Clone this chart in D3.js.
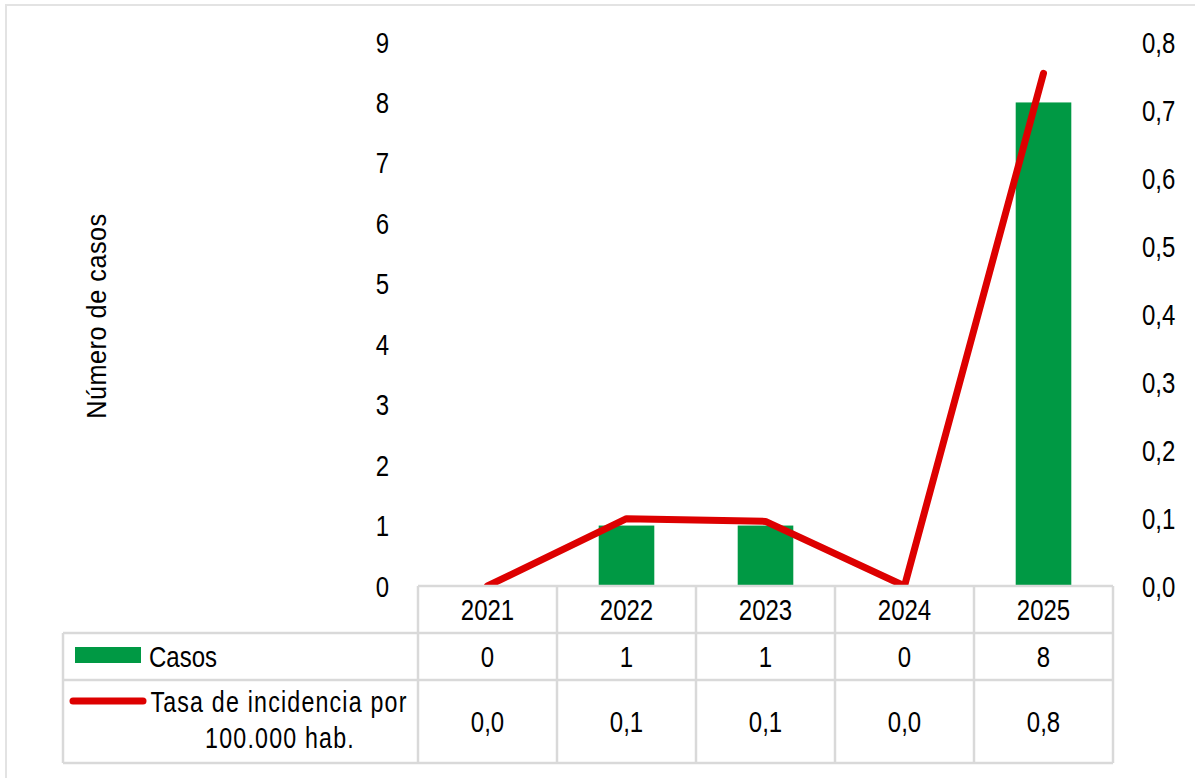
<!DOCTYPE html>
<html>
<head>
<meta charset="utf-8">
<script src="https://cdn.jsdelivr.net/npm/d3@7/dist/d3.min.js"></script>
<style>
  body { margin:0; background:#fff; }
  svg text { font-family:"Liberation Sans", Arial, sans-serif; fill:#000; }
</style>
</head>
<body>
<svg id="canvas" width="1195" height="778"></svg>
<script>
// datos
var anios = ["2021","2022","2023","2024","2025"];
var casos = [0, 1, 1, 0, 8];
var tasa = [0.0, 0.099, 0.095, 0.0, 0.754];
var ticksCasos = [0,1,2,3,4,5,6,7,8,9];
var ticksTasa = [0,0.1,0.2,0.3,0.4,0.5,0.6,0.7,0.8];
var serieCasos = "Casos";
var serieTasa = ["Tasa de incidencia por", "100.000 hab."];
var tituloY = "Número de casos";

var verde = "#009944", rojo = "#dd0000", gris = "#d9d9d9";
var SX = 0.8; // texto estrecho

var svg = d3.select("#canvas");

var x = d3.scaleBand().domain(anios).range([418, 1113]).padding(0);
var y = d3.scaleLinear().domain([0, 9]).range([586, 42]);
var y2 = d3.scaleLinear().domain([0, 0.8]).range([586, 42]);
var coma = function(v) { return d3.format(".1f")(v).replace(".", ","); };

function texto(x0, y0, s, anchor, size, rot, sx) {
  var g = svg.append("g")
    .attr("transform", "translate(" + x0 + "," + y0 + ")" + (rot ? " rotate(" + rot + ")" : "") + " scale(" + (sx || SX) + ",1)");
  g.append("text")
    .attr("text-anchor", anchor)
    .attr("dy", "0.35em")
    .attr("font-size", size)
    .text(s);
  return g;
}

// marco exterior (solo se ve arriba e izquierda)
svg.append("path").attr("d", "M6,778V5H1195").attr("fill", "none")
  .attr("stroke", "#e3e3e3").attr("stroke-width", 2);

// barras
svg.selectAll("rect.bar").data(anios).enter().append("rect")
  .attr("class", "bar")
  .attr("x", function(d) { return x(d) + x.bandwidth() * 0.3; })
  .attr("width", x.bandwidth() * 0.4)
  .attr("y", function(d, i) { return y(casos[i]); })
  .attr("height", function(d, i) { return y(0) - y(casos[i]); })
  .attr("fill", verde);

// linea (recortada al area del grafico)
svg.append("clipPath").attr("id", "recorte")
  .append("rect").attr("x", 0).attr("y", 0).attr("width", 1195).attr("height", y(0));

var linea = d3.line()
  .x(function(d, i) { return x(anios[i]) + x.bandwidth() / 2; })
  .y(function(d) { return y2(d); });

svg.append("path").datum(tasa)
  .attr("d", linea)
  .attr("clip-path", "url(#recorte)")
  .attr("fill", "none")
  .attr("stroke", rojo)
  .attr("stroke-width", 7)
  .attr("stroke-linejoin", "round")
  .attr("stroke-linecap", "round");

// ejes
ticksCasos.forEach(function(t) { texto(389, y(t), t, "end", 30); });
ticksTasa.forEach(function(t) { texto(1142, y2(t), coma(t), "start", 30); });
texto(96, 316, tituloY, "middle", 28, -90, 0.9).select("text").attr("letter-spacing", 0.6);

// tabla de datos
var filas = [586, 633, 680, 763];
var cols = [x(anios[0])].concat(anios.map(function(a) { return x(a) + x.bandwidth(); }));
var rejilla = svg.append("g").attr("stroke", gris).attr("stroke-width", 2.5).attr("fill", "none");
rejilla.append("line").attr("x1", cols[0]).attr("x2", cols[cols.length - 1]).attr("y1", filas[0]).attr("y2", filas[0]);
filas.slice(1).forEach(function(f) {
  rejilla.append("line").attr("x1", 63).attr("x2", cols[cols.length - 1]).attr("y1", f).attr("y2", f);
});
cols.forEach(function(c) {
  rejilla.append("line").attr("x1", c).attr("x2", c).attr("y1", filas[0]).attr("y2", filas[3]);
});
rejilla.append("line").attr("x1", 63).attr("x2", 63).attr("y1", filas[1]).attr("y2", filas[3]);

anios.forEach(function(a, i) {
  var cx = x(a) + x.bandwidth() / 2;
  texto(cx, 609, a, "middle", 30);
  texto(cx, 656, casos[i], "middle", 30);
  texto(cx, 721, coma(tasa[i]), "middle", 30);
});

// leyenda dentro de la tabla
svg.append("rect").attr("x", 75).attr("y", 647).attr("width", 66).attr("height", 16).attr("fill", verde);
texto(149, 656, serieCasos, "start", 30);
svg.append("line").attr("x1", 73).attr("x2", 143).attr("y1", 701).attr("y2", 701)
  .attr("stroke", rojo).attr("stroke-width", 7).attr("stroke-linecap", "round");
texto(279, 702, serieTasa[0], "middle", 29).select("text").attr("letter-spacing", 1.5);
texto(280, 738, serieTasa[1], "middle", 29).select("text").attr("letter-spacing", 1.5);
</script>
</body>
</html>
